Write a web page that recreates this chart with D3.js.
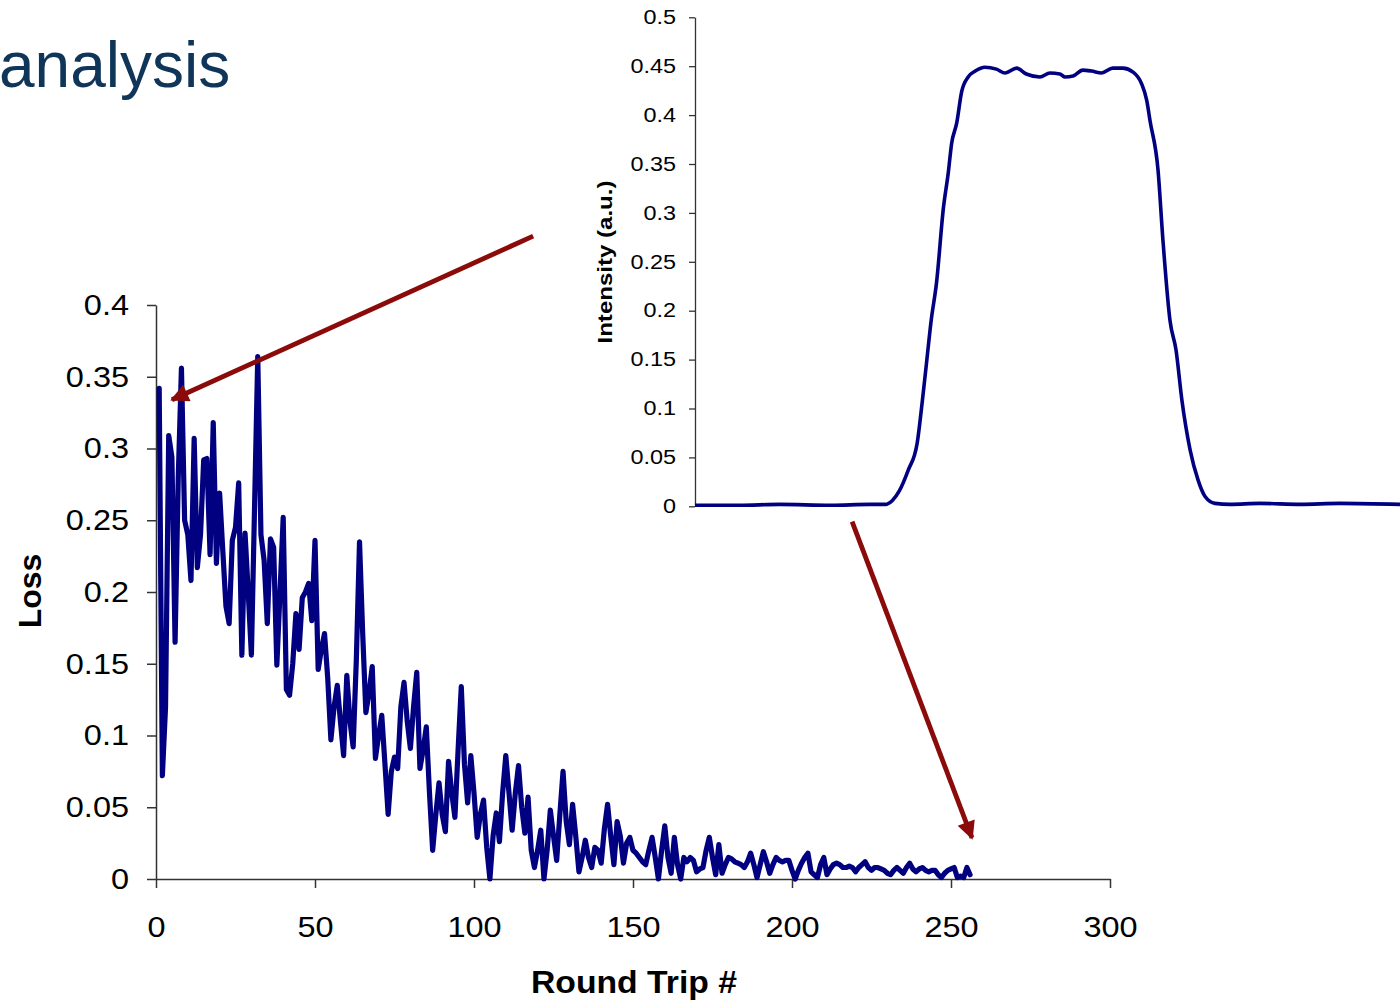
<!DOCTYPE html>
<html><head><meta charset="utf-8">
<script src="https://cdn.jsdelivr.net/npm/d3@7"></script>
<style>body{margin:0;background:#fff;overflow:hidden} svg{display:block}</style>
</head><body>
<script>
// ---------- DATA ----------
const lossValues = [
0.342,0.072,0.12,0.309,0.294,0.165,0.28,0.356,0.25,0.24,
0.208,0.307,0.217,0.24,0.292,0.293,0.226,0.318,0.22,0.269,
0.229,0.19,0.178,0.236,0.245,0.276,0.156,0.241,0.2,0.156,
0.26,0.364,0.24,0.222,0.178,0.237,0.231,0.149,0.2,0.252,
0.132,0.128,0.15,0.185,0.16,0.196,0.2,0.206,0.18,0.236,
0.146,0.16,0.171,0.14,0.097,0.12,0.135,0.11,0.086,0.142,
0.11,0.092,0.153,0.235,0.171,0.116,0.13,0.148,0.084,0.1,
0.114,0.08,0.045,0.075,0.085,0.077,0.12,0.137,0.11,0.091,
0.12,0.144,0.077,0.09,0.106,0.06,0.02,0.045,0.067,0.045,
0.033,0.082,0.06,0.043,0.09,0.134,0.08,0.053,0.086,0.06,
0.029,0.045,0.055,0.022,0.0,0.03,0.046,0.026,0.06,0.086,
0.06,0.034,0.06,0.079,0.05,0.032,0.057,0.02,0.008,0.02,
0.034,0.0,0.02,0.048,0.03,0.013,0.045,0.075,0.04,0.024,
0.052,0.03,0.005,0.015,0.027,0.015,0.008,0.022,0.02,0.011,
0.035,0.052,0.03,0.01,0.04,0.03,0.011,0.025,0.029,0.02,
0.018,0.015,0.012,0.01,0.02,0.029,0.015,0.0,0.02,0.037,
0.015,0.004,0.029,0.01,0.0,0.015,0.012,0.015,0.013,0.005,
0.007,0.008,0.02,0.029,0.015,0.003,0.024,0.004,0.01,0.015,
0.014,0.012,0.011,0.01,0.008,0.012,0.018,0.01,0.001,0.01,
0.019,0.012,0.004,0.01,0.015,0.013,0.012,0.013,0.013,0.006,
0.0,0.006,0.011,0.015,0.018,0.005,0.003,0.001,0.01,0.015,
0.003,0.007,0.01,0.011,0.01,0.008,0.008,0.009,0.008,0.005,
0.008,0.01,0.012,0.008,0.006,0.008,0.008,0.007,0.006,0.004,
0.003,0.006,0.008,0.006,0.004,0.008,0.011,0.007,0.005,0.007,
0.008,0.006,0.005,0.006,0.006,0.003,0.001,0.004,0.006,0.007,
0.008,0.001,0.002,0.001,0.008,0.003
];
const roundTrips = d3.range(1, lossValues.length + 1);
const lossTicks = [0,0.05,0.1,0.15,0.2,0.25,0.3,0.35,0.4];
const tripTicks = [0,50,100,150,200,250,300];

const pulsePos = [0,25,48,77,99,108,112,116,121,126,129,131.5,134,137,141,143.7,145.6,148.5,151.3,155,159,164.5,171,176,182.5,188,195.7,201.4,207,210,214.5,220,225,230.7,237,242.8,248.5,253.4,256.3,258.2,262.7,265.5,269.5,272.9,276.3,281,285.4,289.4,295,303.5,320.6,343.3,366,400];
const pulseIntensity = [0.001,0.001,0.002,0.001,0.002,0.002,0.006,0.016,0.037,0.064,0.108,0.149,0.19,0.228,0.306,0.341,0.371,0.392,0.424,0.439,0.445,0.449,0.447,0.443,0.448,0.442,0.439,0.443,0.442,0.439,0.44,0.446,0.445,0.443,0.448,0.448,0.444,0.432,0.415,0.394,0.344,0.272,0.19,0.16,0.108,0.057,0.027,0.01,0.003,0.002,0.003,0.002,0.003,0.002];
const intensityTicks = [0,0.05,0.1,0.15,0.2,0.25,0.3,0.35,0.4,0.45,0.5];

// annotation arrows in main-chart data coordinates [roundTrip, loss]
const arrowFrom = [[118.6,0.448],[218.9,0.249]];
const arrowTo   = [[5.0,0.334],[256.6,0.0286]];

// ---------- DRAW ----------
const W = 1400, H = 1005;
const FONT = "'Liberation Sans', Arial, Helvetica, sans-serif";
const NAVY = "#000080", AXIS = "#333", RED = "#8b0a0a";

const svg = d3.select("body").append("svg").attr("width", W).attr("height", H)
  .style("font-family", FONT);

svg.append("text").attr("x", -1).attr("y", 87).text("analysis")
  .attr("font-size", 64).attr("fill", "#0f3558");

// main chart
const x = d3.scaleLinear().domain([0,300]).range([156,1110]);
const y = d3.scaleLinear().domain([0,0.4]).range([879,305]);

const sx1 = 1.12;
const gy = svg.append("g").attr("transform", "translate(156,0)")
  .call(d3.axisLeft(y).tickValues(lossTicks).tickFormat(d3.format("")).tickSize(9).tickPadding(18).tickSizeOuter(0));
const gx = svg.append("g").attr("transform", "translate(0,879)")
  .call(d3.axisBottom(x).tickValues(tripTicks).tickFormat(d3.format("d")).tickSize(9).tickPadding(28).tickSizeOuter(0));
[gy, gx].forEach(g => {
  g.select(".domain").attr("stroke", AXIS).attr("stroke-width", 1.5);
  g.selectAll(".tick line").attr("stroke", AXIS).attr("stroke-width", 1.5);
  g.selectAll(".tick text").attr("font-size", 29).attr("font-family", FONT).attr("fill", "#000");
});
gy.selectAll(".tick text").attr("x", -27 / sx1).attr("transform", `scale(${sx1},1)`);
gx.selectAll(".tick text").attr("transform", `scale(${sx1},1)`);

svg.append("text").attr("transform", "translate(41,591) rotate(-90)")
  .attr("text-anchor", "middle").attr("font-weight", "bold").attr("font-size", 32).text("Loss");
svg.append("text").attr("x", 634).attr("y", 993)
  .attr("text-anchor", "middle").attr("font-weight", "bold").attr("font-size", 32)
  .attr("textLength", 206).attr("lengthAdjust", "spacingAndGlyphs").text("Round Trip #");

const lossLine = d3.line().x((d,i) => x(roundTrips[i])).y(d => y(d));
svg.append("path").datum(lossValues).attr("d", lossLine)
  .attr("fill", "none").attr("stroke", NAVY).attr("stroke-width", 5.2)
  .attr("stroke-linejoin", "round").attr("stroke-linecap", "round");

// inset chart
const xi = d3.scaleLinear().domain([0,400]).range([695,1400]);
const yi = d3.scaleLinear().domain([0,0.5]).range([506.3,17.3]);
const sx2 = 1.2;
const gyi = svg.append("g").attr("transform", "translate(695,0)")
  .call(d3.axisLeft(yi).tickValues(intensityTicks).tickFormat(d3.format("")).tickSize(6).tickPadding(19).tickSizeOuter(0));
gyi.select(".domain").attr("stroke", AXIS).attr("stroke-width", 1.3);
gyi.selectAll(".tick line").attr("stroke", AXIS).attr("stroke-width", 1.3);
gyi.selectAll(".tick text").attr("font-size", 19.5).attr("font-family", FONT).attr("fill", "#000")
  .attr("x", -19 / sx2).attr("transform", `scale(${sx2},1)`);

svg.append("text").attr("transform", "translate(612,262) rotate(-90)")
  .attr("text-anchor", "middle").attr("font-weight", "bold").attr("font-size", 20)
  .attr("textLength", 163).attr("lengthAdjust", "spacingAndGlyphs").text("Intensity (a.u.)");

const pulseLine = d3.line().x((d,i) => xi(pulsePos[i])).y(d => yi(d)).curve(d3.curveMonotoneX);
svg.append("path").datum(pulseIntensity).attr("d", pulseLine)
  .attr("fill", "none").attr("stroke", NAVY).attr("stroke-width", 3.6)
  .attr("stroke-linejoin", "round");

// arrows
const defs = svg.append("defs");
defs.append("marker").attr("id", "ah").attr("viewBox", "0 0 10 10")
  .attr("refX", 9).attr("refY", 5).attr("markerWidth", 4.4).attr("markerHeight", 3.8)
  .attr("markerUnits", "strokeWidth").attr("orient", "auto")
  .append("path").attr("d", "M0,0 L10,5 L0,10 Z").attr("fill", RED);
arrowFrom.forEach((f, i) => {
  const t = arrowTo[i];
  svg.append("line")
    .attr("x1", x(f[0])).attr("y1", y(f[1]))
    .attr("x2", x(t[0])).attr("y2", y(t[1]))
    .attr("stroke", RED).attr("stroke-width", 4.8)
    .attr("marker-end", "url(#ah)");
});
</script>
</body></html>
